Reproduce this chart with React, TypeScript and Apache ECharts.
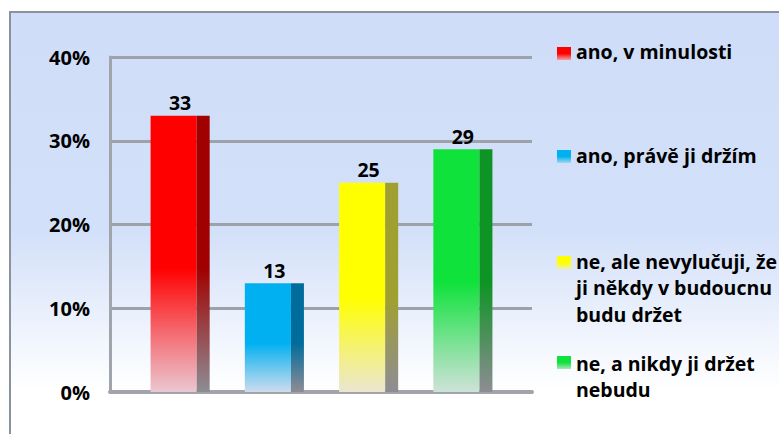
import React, { useEffect, useRef } from "react";
import * as echarts from "echarts";

const categories = [
  "ano, v minulosti",
  "ano, právě ji držím",
  "ne, ale nevylučuji, že\nji někdy v budoucnu\nbudu držet",
  "ne, a nikdy ji držet\nnebudu",
];
const values = [33, 13, 25, 29];
const yTicks = [0, 10, 20, 30, 40];
const frontColors = ["#FF0000", "#00B0F0", "#FFFF00", "#10E23C"];
const sideColors = ["#A00000", "#006C9C", "#A0A030", "#0E9424"];

const FONT = "'Open Sans', 'DejaVu Sans', sans-serif";

function hexToRgb(h: string) {
  const n = parseInt(h.slice(1), 16);
  return [(n >> 16) & 255, (n >> 8) & 255, n & 255];
}
function mix(a: string, b: string, t: number) {
  const A = hexToRgb(a), B = hexToRgb(b);
  const c = A.map((v, i) => Math.round(v + (B[i] - v) * t));
  return `rgb(${c[0]},${c[1]},${c[2]})`;
}

export default function App() {
  const ref = useRef<HTMLDivElement>(null);
  useEffect(() => {
    if (!ref.current) return;
    const chart = echarts.init(ref.current, undefined, { renderer: "svg" });
    const legendTops = [38, 142, 248, 350];
    const legendMarkerY = [47, 150, 256, 356];
    const graphic: any[] = [
      {
        type: "rect",
        z: -10,
        silent: true,
        shape: { x: 10, y: 12, width: 800, height: 440 },
        style: {
          fill: new echarts.graphic.LinearGradient(0, 0, 0, 1, [
            { offset: 0, color: "#CFDDF8" },
            { offset: 0.5, color: "#D3E0F9" },
            { offset: 0.86, color: "#FFFFFF" },
            { offset: 1, color: "#FFFFFF" },
          ]),
          stroke: "#8A929E",
          lineWidth: 2,
        },
      },
    ];
    categories.forEach((name, i) => {
      graphic.push({
        type: "rect",
        shape: { x: 557, y: legendMarkerY[i], width: 14, height: 13 },
        style: {
          fill: new echarts.graphic.LinearGradient(0, 0, 0, 1, [
            { offset: 0, color: frontColors[i] },
            { offset: 0.5, color: frontColors[i] },
            { offset: 1, color: mix(frontColors[i], "#E8E8F0", 0.7) },
          ]),
        },
      });
      graphic.push({
        type: "text",
        x: 576,
        y: legendTops[i],
        style: {
          text: name,
          font: `bold 19.5px ${FONT}`,
          fill: "#000",
          lineHeight: 26.5,
          textVerticalAlign: "top",
        },
      });
    });

    chart.setOption({
      animation: false,
      graphic,
      grid: [
        { left: 110, right: 247, top: 57, bottom: 42 },
        { left: 133, width: 377, top: 57, bottom: 42 },
      ],
      xAxis: [
        {
          type: "category",
          gridIndex: 0,
          data: categories,
          axisLine: { show: true, lineStyle: { color: "#A2A4A8", width: 4 } },
          axisTick: { show: false },
          axisLabel: { show: false },
        },
        {
          type: "category",
          gridIndex: 1,
          data: categories,
          axisLine: { show: false },
          axisTick: { show: false },
          axisLabel: { show: false },
        },
      ],
      yAxis: [
        {
          type: "value",
          gridIndex: 0,
          min: yTicks[0],
          max: yTicks[yTicks.length - 1],
          interval: 10,
          axisLine: { show: true, lineStyle: { color: "#A0A4AC", width: 3 } },
          axisTick: { show: false },
          splitLine: { lineStyle: { color: "#9DA2AA", width: 3 } },
          axisLabel: {
            formatter: "{value}%",
            margin: 20,
            color: "#000",
            fontWeight: "bold",
            fontSize: 20,
            fontFamily: FONT,
          },
        },
        {
          type: "value",
          gridIndex: 1,
          min: yTicks[0],
          max: yTicks[yTicks.length - 1],
          interval: 10,
          show: false,
          splitLine: { show: false },
        },
      ],
      series: [
        {
          type: "custom",
          xAxisIndex: 1,
          yAxisIndex: 1,
          data: values.map((v, i) => [i, v]),
          renderItem: (params: any, api: any) => {
            const idx = api.value(0);
            const val = api.value(1);
            const top = api.coord([idx, val]);
            const base = api.coord([idx, 0]);
            const band = api.size([1, 0])[0];
            const w = band * 0.627;
            const side = w * 0.22;
            const x0 = top[0] - w / 2;
            const h = base[1] - top[1];
            const fc = frontColors[idx];
            const sc = sideColors[idx];
            return {
              type: "group",
              children: [
                {
                  type: "rect",
                  shape: { x: x0, y: top[1], width: w - side, height: h },
                  style: {
                    fill: new echarts.graphic.LinearGradient(0, 0, 0, 1, [
                      { offset: 0, color: fc },
                      { offset: 0.55, color: fc },
                      { offset: 0.8, color: mix(fc, "#E8E2EE", 0.5) },
                      { offset: 1, color: mix(fc, "#E8E2EE", 0.88) },
                    ]),
                  },
                },
                {
                  type: "rect",
                  shape: { x: x0 + w - side, y: top[1], width: side, height: h },
                  style: {
                    fill: new echarts.graphic.LinearGradient(0, 0, 0, 1, [
                      { offset: 0, color: sc },
                      { offset: 0.55, color: sc },
                      { offset: 1, color: "#8E8C94" },
                    ]),
                  },
                },
                {
                  type: "text",
                  style: {
                    text: String(val),
                    x: top[0],
                    y: top[1] - 3,
                    textAlign: "center",
                    textVerticalAlign: "bottom",
                    font: `bold 19.5px ${FONT}`,
                    fill: "#000",
                  },
                },
              ],
            };
          },
        },
      ],
    });
    return () => chart.dispose();
  }, []);
  return (
    <div
      ref={ref}
      style={{ position: "fixed", left: 0, top: 0, width: 779, height: 434, background: "#fff" }}
    />
  );
}
